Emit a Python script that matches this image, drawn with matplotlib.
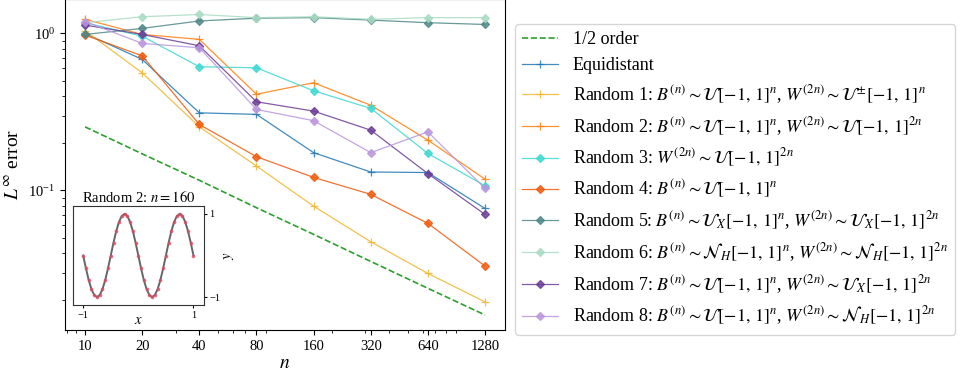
import matplotlib

matplotlib.use("Agg")
import matplotlib.pyplot as plt
from matplotlib.ticker import NullFormatter

plt.rcParams["font.family"] = "serif"
plt.rcParams["font.serif"] = ["Liberation Serif", "DejaVu Serif"]
plt.rcParams["mathtext.fontset"] = "stix"

N_VALUES = [10, 20, 40, 80, 160, 320, 640, 1280]

HALF_ORDER = [0.254, 0.171, 0.116, 0.0776, 0.0525, 0.0353, 0.0238, 0.0161]
EQUIDISTANT = [1.00, 0.683, 0.312, 0.305, 0.174, 0.131, 0.130, 0.0768]
RANDOM_1 = [1.04, 0.561, 0.254, 0.143, 0.0794, 0.0471, 0.0296, 0.0195]
RANDOM_2 = [1.23, 0.985, 0.916, 0.410, 0.485, 0.349, 0.209, 0.118]
RANDOM_3 = [1.17, 0.960, 0.613, 0.604, 0.431, 0.333, 0.172, 0.107]
RANDOM_4 = [0.975, 0.720, 0.263, 0.164, 0.121, 0.0944, 0.0617, 0.0330]
RANDOM_5 = [0.985, 1.076, 1.20, 1.25, 1.26, 1.215, 1.17, 1.14]
RANDOM_6 = [1.17, 1.276, 1.32, 1.26, 1.276, 1.23, 1.26, 1.26]
RANDOM_7 = [1.13, 0.985, 0.834, 0.367, 0.320, 0.242, 0.128, 0.0703]
RANDOM_8 = [1.19, 0.864, 0.810, 0.328, 0.278, 0.174, 0.236, 0.103]

# approximation of Random 2 at n = 160, sampled on [-1, 1]
INSET_X = [-1.0, -0.95, -0.9, -0.85, -0.8, -0.75, -0.7, -0.65, -0.6, -0.55,
           -0.5, -0.45, -0.4, -0.35, -0.3, -0.25, -0.2, -0.15, -0.1, -0.05,
           0.0, 0.05, 0.1, 0.15, 0.2, 0.25, 0.3, 0.35, 0.4, 0.45,
           0.5, 0.55, 0.6, 0.65, 0.7, 0.75, 0.8, 0.85, 0.9, 0.95, 1.0]
INSET_Y = [0.0, -0.31, -0.59, -0.81, -0.95, -1.0, -0.95, -0.81, -0.59, -0.31,
           0.0, 0.31, 0.59, 0.81, 0.95, 1.0, 0.95, 0.81, 0.59, 0.31,
           0.0, -0.31, -0.59, -0.81, -0.95, -1.0, -0.95, -0.81, -0.59, -0.31,
           0.0, 0.31, 0.59, 0.81, 0.95, 1.0, 0.95, 0.81, 0.59, 0.31, 0.0]

CUBE = r"[-1,\,1]"

SERIES = [
    ("Equidistant", EQUIDISTANT, "#1f77b4", "+"),
    (rf"Random 1: $B^{{(n)}}\sim\mathcal{{U}}{CUBE}^n$, $W^{{(2n)}}\sim\mathcal{{U}}^{{\pm}}{CUBE}^n$",
     RANDOM_1, "#f0b630", "+"),
    (rf"Random 2: $B^{{(n)}}\sim\mathcal{{U}}{CUBE}^n$, $W^{{(2n)}}\sim\mathcal{{U}}{CUBE}^{{2n}}$",
     RANDOM_2, "#ff7f0e", "+"),
    (rf"Random 3: $W^{{(2n)}}\sim\mathcal{{U}}{CUBE}^{{2n}}$", RANDOM_3, "#3ed8d2", "D"),
    (rf"Random 4: $B^{{(n)}}\sim\mathcal{{U}}{CUBE}^n$", RANDOM_4, "#f05a0c", "D"),
    (rf"Random 5: $B^{{(n)}}\sim\mathcal{{U}}_X{CUBE}^n$, $W^{{(2n)}}\sim\mathcal{{U}}_X{CUBE}^{{2n}}$",
     RANDOM_5, "#4f8787", "D"),
    (rf"Random 6: $B^{{(n)}}\sim\mathcal{{N}}_H{CUBE}^n$, $W^{{(2n)}}\sim\mathcal{{N}}_H{CUBE}^{{2n}}$",
     RANDOM_6, "#a9dbc3", "D"),
    (rf"Random 7: $B^{{(n)}}\sim\mathcal{{U}}{CUBE}^n$, $W^{{(2n)}}\sim\mathcal{{U}}_X{CUBE}^{{2n}}$",
     RANDOM_7, "#6b3d96", "D"),
    (rf"Random 8: $B^{{(n)}}\sim\mathcal{{U}}{CUBE}^n$, $W^{{(2n)}}\sim\mathcal{{N}}_H{CUBE}^{{2n}}$",
     RANDOM_8, "#b996dc", "D"),
]


def draw_errors(ax):
    ax.plot(N_VALUES, HALF_ORDER, "--", color="#2ca02c", lw=1.2, label="1/2 order")
    for label, values, color, marker in SERIES:
        size = 6 if marker == "+" else 4
        ax.plot(N_VALUES, values, marker=marker, color=color, lw=0.9,
                ms=size, mew=0.9, alpha=0.85, label=label)

    ax.set_xscale("log")
    ax.set_yscale("log")
    ax.set_xticks(N_VALUES)
    ax.set_xticklabels([str(n) for n in N_VALUES])
    ax.xaxis.set_minor_formatter(NullFormatter())
    ax.tick_params(labelsize=10.5)
    ax.set_xlabel(r"$n$", fontsize=14, labelpad=2)
    ax.set_ylabel(r"$L^\infty$ error", fontsize=14, labelpad=4)


def draw_inset(fig):
    ins = fig.add_axes([0.0751, 0.1823, 0.1356, 0.2654])
    ins.plot(INSET_X, INSET_Y, color="#555555", lw=1.4, alpha=0.9)
    ins.plot(INSET_X, INSET_Y, "o", color="#dc4a63", ms=2.6, alpha=0.8, mew=0)
    ins.set_xlim(-1.19, 1.19)
    ins.set_ylim(-1.19, 1.19)
    ins.set_xticks([-1, 1])
    ins.set_yticks([-1, 1])
    ins.yaxis.tick_right()
    ins.yaxis.set_label_position("right")
    ins.tick_params(labelsize=7.5, length=2.5, pad=1.5)
    ins.set_xlabel(r"$x$", fontsize=10.5, labelpad=-4)
    ins.set_ylabel(r"$y$", fontsize=10.5, labelpad=1)
    ins.set_title(r"Random 2: $n=160$", fontsize=10.5, pad=3)
    for spine in ins.spines.values():
        spine.set_edgecolor("#333333")


fig = plt.figure(figsize=(9.68, 3.73), dpi=100)
ax = fig.add_axes([0.0672, 0.1153, 0.4545, 0.8862])
draw_errors(ax)
draw_inset(fig)

fig.legend(*ax.get_legend_handles_labels(), loc="upper left",
           bbox_to_anchor=(0.532, 0.9357), fontsize=13, borderaxespad=0)

fig.savefig("out.png", dpi=100)
